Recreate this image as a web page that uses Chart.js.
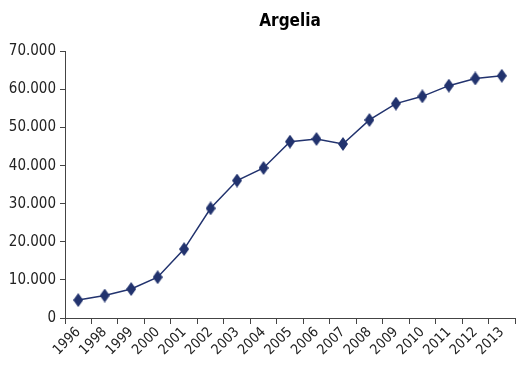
<!DOCTYPE html>
<html>
<head>
<meta charset="utf-8">
<script src="https://cdn.jsdelivr.net/npm/chart.js@4/dist/chart.umd.min.js"></script>
<style>
  html, body { margin: 0; padding: 0; background: #fff; }
  #wrap { width: 521px; height: 370px; }
</style>
</head>
<body>
<div id="wrap"><canvas id="chart"></canvas></div>
<script>
const years = ['1996', '1998', '1999', '2000', '2001', '2002', '2003', '2004', '2005',
    '2006', '2007', '2008', '2009', '2010', '2011', '2012', '2013'];
const values = [4700, 5900, 7600, 10700, 18100, 28800, 36100, 39400, 46300,
    47000, 45700, 52000, 56300, 58200, 61000, 62900, 63600];
const yTicks = [0, 10000, 20000, 30000, 40000, 50000, 60000, 70000];

const navy = '#22336e';
const font = '"Liberation Sans Narrow", "DejaVu Sans Condensed", sans-serif';

// tall diamond marker
const marker = document.createElement('canvas');
marker.width = 10;
marker.height = 14;
const mctx = marker.getContext('2d');
mctx.fillStyle = navy;
mctx.beginPath();
mctx.moveTo(5, 0);
mctx.lineTo(10, 7);
mctx.lineTo(5, 14);
mctx.lineTo(0, 7);
mctx.closePath();
mctx.fill();

const fmt = (v) => v === 0 ? '0' : String(v).replace(/\B(?=(\d{3})+(?!\d))/g, '.');

new Chart(document.getElementById('chart'), {
    type: 'line',
    data: {
        labels: years,
        datasets: [{
            label: 'Argelia',
            data: values,
            borderColor: navy,
            backgroundColor: navy,
            borderWidth: 1.5,
            pointStyle: marker,
            tension: 0
        }]
    },
    options: {
        responsive: true,
        maintainAspectRatio: false,
        animation: false,
        layout: { padding: { top: 8, right: 6, left: 0, bottom: 0 } },
        plugins: {
            legend: { display: false },
            tooltip: { enabled: false },
            title: {
                display: true,
                text: 'Argelia',
                fullSize: false,
                color: '#000',
                font: { family: font, size: 17, weight: 'bold' },
                padding: { top: 3, bottom: 20 }
            }
        },
        scales: {
            x: {
                offset: true,
                grid: { offset: true, drawOnChartArea: false, tickLength: 6, color: '#444' },
                border: { color: '#444', width: 1 },
                ticks: {
                    color: '#222',
                    font: { family: font, size: 14 },
                    minRotation: 45,
                    maxRotation: 45,
                    autoSkip: false,
                    padding: 0
                },
                afterFit: (s) => { s.height = 52; }
            },
            y: {
                min: 0,
                max: 70000,
                afterBuildTicks: (s) => { s.ticks = yTicks.map(v => ({ value: v })); },
                grid: { drawOnChartArea: false, tickLength: 5, color: '#444' },
                border: { color: '#444', width: 1 },
                ticks: {
                    color: '#222',
                    font: { family: font, size: 15 },
                    padding: 4,
                    callback: (v) => fmt(v)
                },
                afterFit: (s) => { s.width = 65; }
            }
        }
    }
});
</script>
</body>
</html>
